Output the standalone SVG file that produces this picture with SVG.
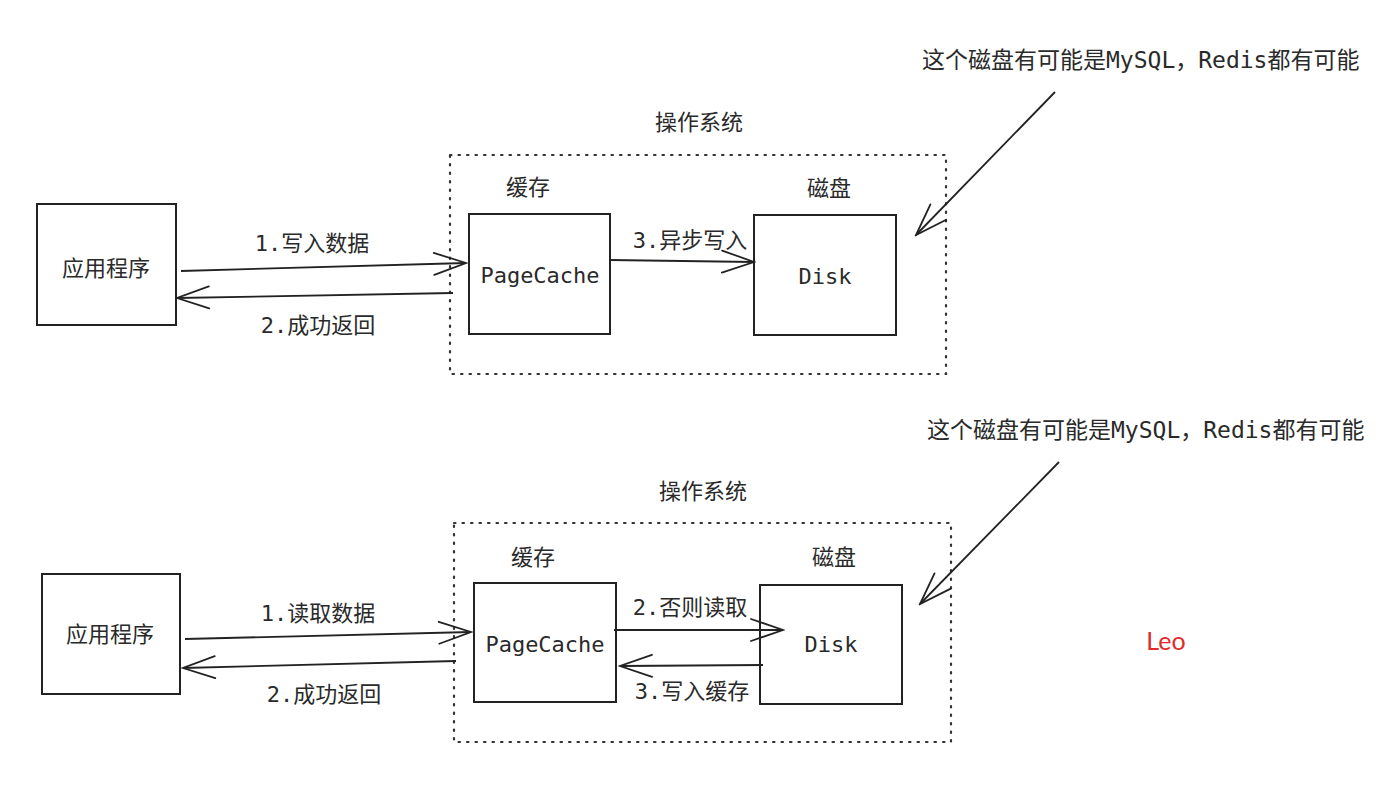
<svg xmlns="http://www.w3.org/2000/svg" width="1400" height="804" viewBox="0 0 1400 804">
<style>
.t{font-family:"DejaVu Sans Mono","Noto Sans CJK SC",monospace;font-size:22px;fill:#2a2a2a;text-anchor:middle;dominant-baseline:central}
.ta{font-family:"DejaVu Sans Mono","Noto Sans CJK SC",monospace;font-size:23px;fill:#2a2a2a;dominant-baseline:central}
.box{fill:#fff;stroke:#222;stroke-width:2}
.dot{fill:none;stroke:#333;stroke-width:2.2;stroke-dasharray:1.5 7;stroke-linecap:round}
.ln{fill:none;stroke:#222;stroke-width:1.8;marker-end:url(#ah)}
</style>
<defs>
<marker id="ah" viewBox="-34 -14 36 28" refX="0" refY="0" markerWidth="36" markerHeight="28" markerUnits="userSpaceOnUse" orient="auto">
<path d="M-32,-11 L0,0 L-32,11" fill="none" stroke="#222" stroke-width="1.8" stroke-linecap="round"/>
</marker>
</defs>
<rect width="1400" height="804" fill="#fff"/>

<!-- Top diagram -->
<g id="os-top">
<rect class="dot" x="450" y="155" width="496" height="219"/>
<text class="t" x="699" y="122">操作系统</text>
</g>
<g id="app-top">
<rect class="box" x="37" y="204" width="139" height="121"/>
<text class="t" x="106" y="268">应用程序</text>
</g>
<g id="cache-top">
<text class="t" x="528" y="187">缓存</text>
<rect class="box" x="469" y="214" width="141" height="120"/>
<text class="t" x="540" y="275">PageCache</text>
</g>
<g id="disk-top">
<text class="t" x="829" y="188">磁盘</text>
<rect class="box" x="754" y="215" width="142" height="120"/>
<text class="t" x="825" y="276">Disk</text>
</g>
<g id="note-top">
<text class="ta" x="922" y="60">这个磁盘有可能是MySQL，Redis都有可能</text>
</g>

<!-- Bottom diagram -->
<g id="os-bottom">
<rect class="dot" x="454" y="523" width="497" height="219"/>
<text class="t" x="703" y="491">操作系统</text>
</g>
<g id="app-bottom">
<rect class="box" x="42" y="574" width="138" height="120"/>
<text class="t" x="110" y="634">应用程序</text>
</g>
<g id="cache-bottom">
<text class="t" x="533" y="557">缓存</text>
<rect class="box" x="474" y="583" width="142" height="119"/>
<text class="t" x="545" y="644">PageCache</text>
</g>
<g id="disk-bottom">
<text class="t" x="834" y="557">磁盘</text>
<rect class="box" x="760" y="585" width="142" height="119"/>
<text class="t" x="831" y="644">Disk</text>
</g>
<g id="note-bottom">
<text class="ta" x="927" y="430">这个磁盘有可能是MySQL，Redis都有可能</text>
</g>
<g id="signature">
<text x="1166" y="640" font-family="Lato,'Noto Sans',sans-serif" font-size="25" fill="#e02a2a" text-anchor="middle" dominant-baseline="central">Leo</text>
</g>

<g id="connectors">
<line class="ln" x1="181" y1="271" x2="466" y2="263"/>
<text class="t" x="312" y="243">1.写入数据</text>
<line class="ln" x1="453" y1="293" x2="177" y2="298"/>
<text class="t" x="318" y="325">2.成功返回</text>
<line class="ln" x1="610" y1="260" x2="754" y2="262"/>
<text class="t" x="690" y="240">3.异步写入</text>
<line class="ln" x1="1055" y1="92" x2="916" y2="235"/>

<line class="ln" x1="185" y1="639" x2="471" y2="632"/>
<text class="t" x="318" y="613">1.读取数据</text>
<line class="ln" x1="456" y1="661" x2="183" y2="668"/>
<text class="t" x="324" y="694">2.成功返回</text>
<line class="ln" x1="614" y1="630" x2="783" y2="630"/>
<text class="t" x="690" y="607">2.否则读取</text>
<line class="ln" x1="763" y1="665" x2="620" y2="666"/>
<text class="t" x="692" y="691">3.写入缓存</text>
<line class="ln" x1="1059" y1="462" x2="920" y2="604"/>
</g>
</svg>
